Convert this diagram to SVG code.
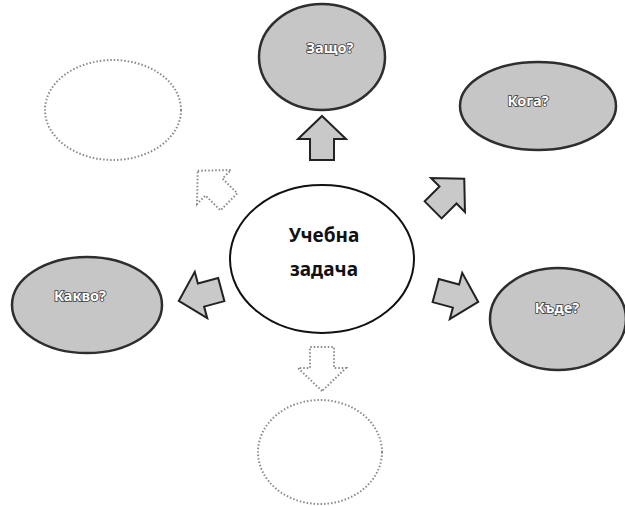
<svg xmlns="http://www.w3.org/2000/svg" width="625" height="506" viewBox="0 0 625 506">
<style>
.bg{fill:#ffffff}
.dark{fill:#c6c6c6;stroke:#2e2e2e;stroke-width:2.5}
.light{fill:#ffffff;stroke:#8a8a8a;stroke-width:2;stroke-dasharray:1.5 2}
.center{fill:#ffffff;stroke:#111;stroke-width:2}
.lbl{font-family:"Noto Sans","Liberation Sans",sans-serif;font-weight:bold;font-size:14.5px;fill:#ffffff;stroke:#3a3a3a;stroke-width:1.6;paint-order:stroke;text-anchor:middle}
.main{font-family:"Noto Sans","Open Sans","Liberation Sans",sans-serif;font-weight:bold;font-size:19px;fill:#111;text-anchor:middle}
.arr-dark{fill:#c9c9c9;stroke:#222;stroke-width:2;stroke-linejoin:miter}
.arr-light{fill:#ffffff;stroke:#8a8a8a;stroke-width:2;stroke-dasharray:1.5 2}
</style>
<defs>
<path id="arrow" d="M0,-23 L24,0 L12,0 L12,21 L-12,21 L-12,0 L-24,0 Z"/>
</defs>
<rect class="bg" x="0" y="0" width="625" height="506"/>
<g id="connectors">
<use href="#arrow" class="arr-dark" transform="translate(322,139)"/>
<use href="#arrow" class="arr-dark" transform="translate(448,195) rotate(45)"/>
<use href="#arrow" class="arr-dark" transform="translate(456,296) rotate(105)"/>
<use href="#arrow" class="arr-dark" transform="translate(201,295) rotate(-105)"/>
<use href="#arrow" class="arr-light" transform="translate(322,368) rotate(180)"/>
<use href="#arrow" class="arr-light" transform="translate(214,187) rotate(-45)"/>
</g>
<g id="center">
<ellipse class="center" cx="322" cy="259" rx="92" ry="74"/>
<text class="main" x="324" y="242">Учебна</text>
<text class="main" x="324" y="276">задача</text>
</g>
<g id="zashto">
<ellipse class="dark" cx="322" cy="57" rx="63" ry="53"/>
<text class="lbl" x="330" y="53">Защо?</text>
</g>
<g id="koga">
<ellipse class="dark" cx="538" cy="106" rx="78" ry="44"/>
<text class="lbl" x="528" y="106">Кога?</text>
</g>
<g id="kade">
<ellipse class="dark" cx="558" cy="319" rx="68" ry="51"/>
<text class="lbl" x="557" y="313">Къде?</text>
</g>
<g id="kakvo">
<ellipse class="dark" cx="87" cy="305" rx="75" ry="48"/>
<text class="lbl" x="80" y="301">Какво?</text>
</g>
<g id="empty-top-left">
<ellipse class="light" cx="113" cy="110" rx="68" ry="50"/>
</g>
<g id="empty-bottom">
<ellipse class="light" cx="320" cy="452" rx="62" ry="52"/>
</g>
</svg>
